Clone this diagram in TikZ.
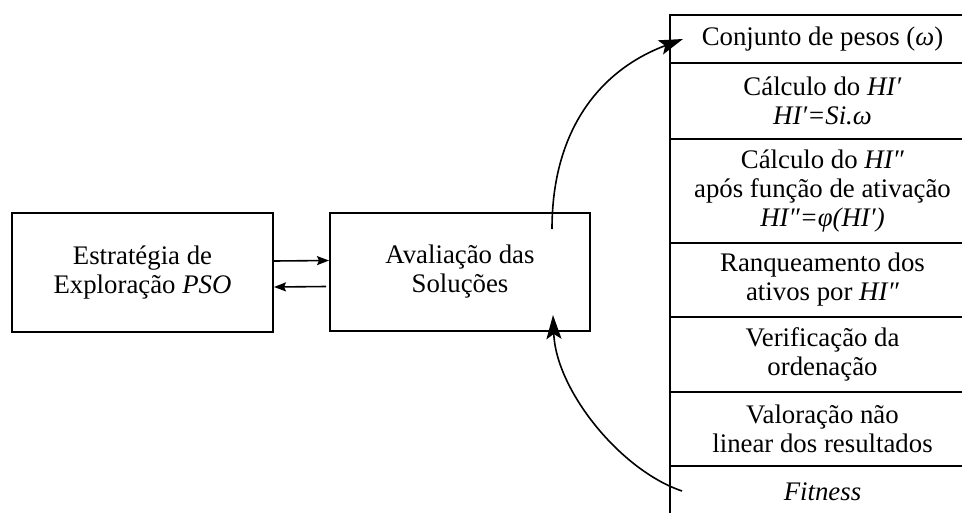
\documentclass[tikz,border=0pt]{standalone}
\usepackage{fontspec}
\setmainfont{Liberation Serif}
\usetikzlibrary{arrows.meta}
\begin{document}
\begin{tikzpicture}[x=1pt,y=-1pt,
  box/.style={draw,line width=2pt,inner sep=0pt,align=center,font=\fontsize{26.8}{29}\selectfont},
  row/.style={draw,line width=2pt,inner sep=0pt,align=center,minimum width=305pt,font=\fontsize{26.8}{29}\selectfont},
  small/.style={line width=1.6pt,-{Stealth[length=12pt,width=9pt,inset=2pt]}},
  big/.style={line width=1.6pt,-{Stealth[length=24pt,width=15pt,inset=5pt]}}]
\clip (0,0) rectangle (962,512);
\node[box,minimum width=261pt,minimum height=119pt] (b1) at (142.5,272.5) {Estratégia de\\Exploração \textit{PSO}};
\node[box,minimum width=260pt,minimum height=118pt] (b2) at (460,272) {Avaliação das\\Soluções};
\node[row,minimum height=48pt] (r1) at (822.5,39) {Conjunto de pesos (\textit{ω})};
\node[row,minimum height=76pt] (r2) at (822.5,101) {Cálculo do \textit{HI′}\\\textit{HI′=Si.ω}};
\node[row,minimum height=104pt] (r3) at (822.5,191) {Cálculo do \textit{HI″}\\após função de ativação\\\textit{HI″=φ(HI′)}};
\node[row,minimum height=74pt] (r4) at (822.5,280) {Ranqueamento dos\\ativos por \textit{HI″}};
\node[row,minimum height=75pt] (r5) at (822.5,354.5) {Verificação da\\ordenação};
\node[row,minimum height=74pt] (r6) at (822.5,429) {Valoração não\\linear dos resultados};
\node[row,minimum height=52pt] (r7) at (822.5,492) {\textit{Fitness}};
\draw[small] ([yshift=11.5pt]b1.east) -- ([yshift=11.5pt]b2.west);
\draw[small] ([xshift=-3pt,yshift=-14.5pt]b2.west) -- ([yshift=-14.5pt]b1.east);
\coordinate (s1) at (552,229);
\coordinate (e1) at ([xshift=14pt]r1.west);
\coordinate (s2) at ([xshift=13pt,yshift=1pt]r7.west);
\coordinate (e2) at (553,315);
\draw[big] (s1) .. controls (552,130) and (600,70) .. (e1);
\draw[big] (s2) .. controls (620,470) and (556,390) .. (e2);
\end{tikzpicture}
\end{document}
